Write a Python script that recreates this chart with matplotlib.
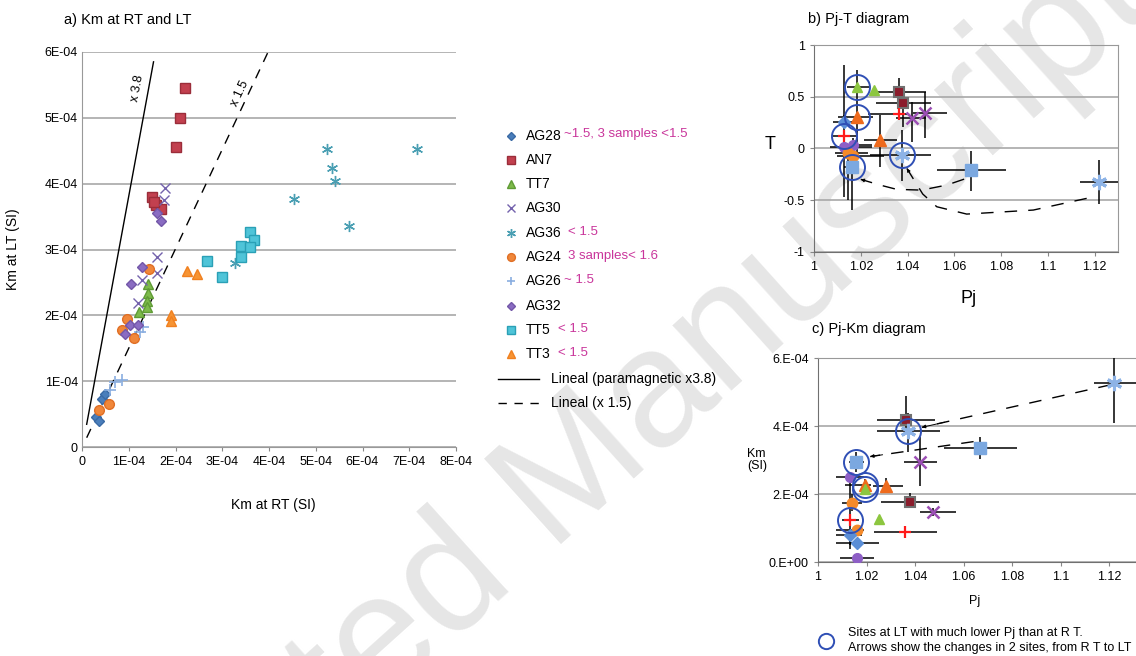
import numpy as np
import matplotlib
matplotlib.use('Agg')
import matplotlib.pyplot as plt

plt.rcParams['font.family'] = ['Liberation Sans', 'DejaVu Sans']
plt.rcParams['font.size'] = 9

# ---------------- a) Km at RT and LT (values in 1E-04 SI) ----------------
sites = ['AG28', 'AN7', 'TT7', 'AG30', 'AG36', 'AG24', 'AG26', 'AG32', 'TT5', 'TT3']
site_notes = ['~1.5, 3 samples <1.5', '', '', '', '< 1.5', '3 samples< 1.6',
              '~ 1.5', '', '< 1.5', '< 1.5']
km_rt = [
    [0.43, 0.30, 0.36, 0.50],
    [2.20, 2.09, 2.00, 1.49, 1.58, 1.68, 1.55],
    [1.42, 1.42, 1.38, 1.38, 1.21],
    [1.77, 1.75, 1.60, 1.61, 1.28, 1.20],
    [5.23, 7.16, 5.34, 5.41, 4.53, 5.71, 3.28],
    [1.44, 0.96, 0.85, 1.11, 0.57, 0.36],
    [0.71, 0.60, 0.85, 1.24, 1.31],
    [1.60, 1.68, 1.28, 1.04, 1.03, 0.92, 1.20],
    [3.60, 3.67, 3.40, 3.60, 3.40, 2.67, 2.99],
    [2.25, 2.47, 1.90, 1.90],
]
km_lt = [
    [0.73, 0.45, 0.39, 0.80],
    [5.45, 5.00, 4.55, 3.79, 3.67, 3.62, 3.72],
    [2.47, 2.34, 2.22, 2.13, 2.05],
    [3.93, 3.75, 2.89, 2.64, 2.53, 2.18],
    [4.52, 4.52, 4.24, 4.04, 3.76, 3.35, 2.79],
    [2.71, 1.95, 1.78, 1.66, 0.66, 0.56],
    [0.99, 0.86, 1.02, 1.75, 1.82],
    [3.55, 3.43, 2.73, 2.47, 1.85, 1.72, 1.85],
    [3.27, 3.15, 3.06, 3.04, 2.88, 2.82, 2.58],
    [2.67, 2.63, 2.00, 1.92],
]
# linear trends: paramagnetic x3.8 and x1.5
trend_slope = [3.85, 1.51]
trend_icpt = [-0.04, -0.01]
trend_xmin = [0.10, 0.10]
trend_xmax = [1.53, 4.00]
trend_names = ['Lineal (paramagnetic x3.8)', 'Lineal (x 1.5)']

a_xticks = ['0', '1E-04', '2E-04', '3E-04', '4E-04', '5E-04', '6E-04', '7E-04', '8E-04']
a_yticks = ['0', '1E-04', '2E-04', '3E-04', '4E-04', '5E-04', '6E-04']

# ---------------- b) Pj-T diagram ----------------
b_site = ['TT7', 'TT7', 'AN7', 'AN7', 'AG26', 'AG30', 'AG30', 'TT3', 'TT3', 'AG28',
          'AG26', 'AG32', 'AG32', 'AG24', 'AG24', 'TT5', 'AG36', 'TT5', 'AG36']
b_pj = [1.0185, 1.0257, 1.0364, 1.0382, 1.0364, 1.0420, 1.0475, 1.0185, 1.0282, 1.0128,
        1.0128, 1.0130, 1.0166, 1.0147, 1.0168, 1.0161, 1.0375, 1.0670, 1.1219]
b_t = [0.596, 0.565, 0.548, 0.440, 0.332, 0.290, 0.345, 0.300, 0.080, 0.258,
       0.119, 0.016, 0.032, -0.048, -0.075, -0.178, -0.065, -0.210, -0.323]
b_pj_min = [1.0140, 1.0257, 1.0275, 1.0265, 1.0232, 1.0350, 1.0425, 1.0104, 1.0214, 1.0080,
            1.0080, 1.0068, 1.0110, 1.0090, 1.0100, 1.0130, 1.0240, 1.0525, 1.1138]
b_pj_max = [1.0240, 1.0257, 1.0479, 1.0499, 1.0396, 1.0480, 1.0570, 1.0254, 1.0354, 1.0200,
            1.0180, 1.0247, 1.0250, 1.0230, 1.0300, 1.0190, 1.0499, 1.0820, 1.1400]
b_t_min = [0.450, 0.565, 0.420, 0.210, 0.300, 0.064, 0.100, -0.070, -0.180, 0.200,
           -0.470, -0.050, -0.050, -0.500, -0.200, -0.600, -0.320, -0.410, -0.540]
b_t_max = [0.760, 0.565, 0.680, 0.520, 0.360, 0.450, 0.550, 0.450, 0.320, 0.320,
           0.810, 0.100, 0.100, 0.020, 0.050, 0.020, 0.180, -0.030, -0.110]
b_circled = [1, 0, 0, 0, 0, 0, 0, 1, 0, 0, 1, 0, 0, 0, 0, 1, 1, 0, 0]
# RT -> LT change paths (AG36 and TT5)
b_path_ag36_pj = [1.1166, 1.0938, 1.0653, 1.0525, 1.0465, 1.0397]
b_path_ag36_t = [-0.484, -0.597, -0.636, -0.565, -0.442, -0.194]
b_path_tt5_pj = [1.0642, 1.0568, 1.0460, 1.0354, 1.0282, 1.0200]
b_path_tt5_t = [-0.298, -0.355, -0.404, -0.397, -0.355, -0.300]

# ---------------- c) Pj-Km diagram (Km in 1E-04 SI) ----------------
c_site = ['AG36', 'AN7', 'AG36', 'TT5', 'AG30', 'TT5', 'AG32', 'TT3', 'TT7', 'TT3',
          'AN7', 'AG30', 'AG24', 'AG26', 'TT7', 'AG26', 'AG24', 'AG28', 'AG28', 'AG32']
c_pj = [1.1221, 1.0363, 1.0371, 1.0669, 1.0421, 1.0158, 1.0130, 1.0192, 1.0192, 1.0280,
        1.0380, 1.0472, 1.0140, 1.0130, 1.0253, 1.0360, 1.0160, 1.0130, 1.0160, 1.0160]
c_km = [5.28, 4.19, 3.87, 3.37, 2.94, 2.96, 2.52, 2.28, 2.15, 2.24,
        1.78, 1.49, 1.73, 1.24, 1.26, 0.88, 0.95, 0.79, 0.57, 0.12]
c_pj_min = [1.1136, 1.0243, 1.0243, 1.0520, 1.0353, 1.0126, 1.0075, 1.0110, 1.0192, 1.0225,
            1.0260, 1.0420, 1.0100, 1.0100, 1.0253, 1.0229, 1.0075, 1.0075, 1.0075, 1.0090]
c_pj_max = [1.1400, 1.0483, 1.0501, 1.0820, 1.0490, 1.0190, 1.0190, 1.0220, 1.0192, 1.0350,
            1.0500, 1.0570, 1.0180, 1.0170, 1.0253, 1.0490, 1.0190, 1.0180, 1.0250, 1.0230]
c_km_min = [4.09, 3.89, 3.25, 3.03, 2.24, 2.66, 2.52, 2.10, 2.15, 2.15,
            1.60, 1.35, 1.50, 0.40, 1.26, 0.88, 0.80, 0.50, 0.57, 0.12]
c_km_max = [6.10, 4.90, 4.38, 3.68, 3.68, 3.25, 2.52, 2.45, 2.15, 2.47,
            2.03, 1.60, 2.00, 2.50, 1.26, 0.88, 1.10, 0.95, 0.57, 0.12]
c_circled = [0, 0, 1, 0, 0, 1, 0, 1, 1, 0, 0, 0, 0, 1, 0, 0, 0, 0, 0, 0]
c_path_ag36_pj = [1.1205, 1.0428]
c_path_ag36_km = [5.22, 3.97]
c_path_tt5_pj = [1.0641, 1.0215]
c_path_tt5_km = [3.55, 3.11]

pj_ticks = ['1', '1.02', '1.04', '1.06', '1.08', '1.1', '1.12']
t_ticks = ['-1', '-0.5', '0', '0.5', '1']
c_yticks = ['0.E+00', '2.E-04', '4.E-04', '6.E-04']

# marker styles
style_a = {
    'AG28': dict(marker='D', mfc='#4a7ebb', mec='#3a6aa5', ms=5),
    'AN7': dict(marker='s', mfc='#c2404f', mec='#9b2d3a', ms=7),
    'TT7': dict(marker='^', mfc='#7dba4a', mec='#5f9b35', ms=7),
    'AG30': dict(marker='x', color='#7462ad', ms=7, mew=1.0),
    'AG36': dict(marker=(6, 2, 0), color='#4a9fb3', ms=8, mew=1.0),
    'AG24': dict(marker='o', mfc='#f0873a', mec='#e06f25', ms=7),
    'AG26': dict(marker='+', color='#8aaee0', ms=8, mew=1.2),
    'AG32': dict(marker='D', mfc='#8a6cc2', mec='#7357a8', ms=5.5),
    'TT5': dict(marker='s', mfc='#4fc4d8', mec='#2aa0b6', ms=7.5),
    'TT3': dict(marker='^', mfc='#f79433', mec='#f08020', ms=7.5),
}
style_bc = {
    'AG28': dict(marker='D', mfc='#5b8ed6', mec='#5b8ed6', ms=6),
    'AN7': dict(marker='s', mfc='#8b1c2c', mec='#707070', ms=7, mew=1.5),
    'TT7': dict(marker='^', mfc='#8cc63f', mec='#8cc63f', ms=7),
    'AG30': dict(marker='x', color='#9c4fb5', ms=9, mew=1.8),
    'AG36': dict(marker=(6, 2, 0), color='#8db3e6', ms=11, mew=2.2),
    'AG24': dict(marker='o', mfc='#f58a2a', mec='#f58a2a', ms=7.5),
    'AG26': dict(marker='+', color='#ff1a1a', ms=9, mew=1.6),
    'AG32': dict(marker='o', mfc='#8e5fc6', mec='#8e5fc6', ms=7),
    'TT5': dict(marker='s', mfc='#7ba8e0', mec='#7ba8e0', ms=8),
    'TT3': dict(marker='^', mfc='#ee6a1c', mec='#ee6a1c', ms=8),
}
grid_kw = dict(color='#a8a8a8', lw=1.2)
ring_kw = dict(ls='none', marker='o', mfc='none', mec='#2f4fb5', ms=18, mew=1.4, zorder=6)
note_color = '#c9359b'

fig = plt.figure(figsize=(11.36, 6.56), dpi=100)
fig.text(0.484, 0.243, 'Accepted Manuscript', rotation=42, rotation_mode='anchor',
         ha='center', va='center', fontsize=120, color='#e6e6e6', zorder=-1)


def frame(ax, spines_on, col='#999999'):
    ax.set_facecolor('none')
    for side, sp in ax.spines.items():
        sp.set_visible(side in spines_on)
        sp.set_color(col)
    ax.tick_params(colors='#888888', labelcolor='black', length=3, labelsize=9)
    ax.set_axisbelow(True)


# ---- panel a ----
ax_a = fig.add_axes([82 / 1136, 1 - 447 / 656, 374 / 1136, 395 / 656])
frame(ax_a, ['left', 'bottom'])
ax_a.set_xlim(0, 8e-4)
ax_a.set_ylim(0, 6e-4)
ax_a.set_xticks(np.arange(len(a_xticks)) * 1e-4, a_xticks)
ax_a.set_yticks(np.arange(len(a_yticks)) * 1e-4, a_yticks)
ax_a.yaxis.grid(True, **grid_kw)
ax_a.tick_params(axis='y', length=0, pad=3)

for name, xs, ys in zip(sites, km_rt, km_lt):
    ax_a.plot(np.array(xs) * 1e-4, np.array(ys) * 1e-4, ls='none', zorder=4, **style_a[name])

trend_ls = ['-', (0, (7, 6))]
for k in range(2):
    xx = np.array([trend_xmin[k], trend_xmax[k]])
    yy = trend_slope[k] * xx + trend_icpt[k]
    ax_a.plot(xx * 1e-4, yy * 1e-4, color='black', lw=1.0, ls=trend_ls[k], zorder=3)
ax_a.text(1.18e-4, 5.45e-4, 'x 3.8', rotation=79.6, ha='center', va='center', fontsize=9)
ax_a.text(3.37e-4, 5.37e-4, 'x 1.5', rotation=65, ha='center', va='center', fontsize=9,
          bbox=dict(fc='white', ec='none', pad=0.5))
ax_a.set_xlabel('Km at RT (SI)', fontsize=10)
ax_a.xaxis.set_label_coords(0.511, -0.129)
ax_a.set_ylabel('Km at LT (SI)', fontsize=10)
ax_a.yaxis.set_label_coords(-0.166, 0.5)


def scatter_panel(ax, site, px, py, pmin, pmax, ymin, ymax, circ, scale=1.0):
    px, py = np.array(px), np.array(py) * scale
    pmin, pmax = np.array(pmin), np.array(pmax)
    ymin, ymax = np.array(ymin) * scale, np.array(ymax) * scale
    ax.errorbar(px, py, xerr=[px - pmin, pmax - px], yerr=[py - ymin, ymax - py],
                fmt='none', ecolor='black', elinewidth=1.1, capsize=0, zorder=3)
    for i, s in enumerate(site):
        ax.plot(px[i], py[i], ls='none', zorder=5, **style_bc[s])
    c = np.array(circ, dtype=bool)
    ax.plot(px[c], py[c], **ring_kw)


def change_arrow(ax, xs, ys):
    xs, ys = np.asarray(xs, float), np.asarray(ys, float)
    ax.plot(xs, ys, color='black', lw=1.0, ls=(0, (9, 8)), zorder=2)
    # short head on the final stretch only, so the dashes stay visible
    tail = (xs[-1] + 0.12 * (xs[-2] - xs[-1]), ys[-1] + 0.12 * (ys[-2] - ys[-1]))
    ax.annotate('', xy=(xs[-1], ys[-1]), xytext=tail, zorder=2,
                arrowprops=dict(arrowstyle='-|>', color='black', lw=0.7,
                                mutation_scale=5, shrinkA=0, shrinkB=0))


# ---- panel b ----
ax_b = fig.add_axes([814 / 1136, 1 - 251.7 / 656, 304 / 1136, 206.7 / 656])
frame(ax_b, ['left', 'bottom', 'top', 'right'])
ax_b.spines['left'].set_color('#707070')
ax_b.spines['bottom'].set_color('#707070')
ax_b.set_xlim(1, 1.13)
ax_b.set_ylim(-1, 1)
ax_b.set_xticks(1 + np.arange(len(pj_ticks)) * 0.02, pj_ticks)
ax_b.set_yticks(-1 + np.arange(len(t_ticks)) * 0.5, t_ticks)
ax_b.yaxis.grid(True, **grid_kw)
scatter_panel(ax_b, b_site, b_pj, b_t, b_pj_min, b_pj_max, b_t_min, b_t_max, b_circled)
change_arrow(ax_b, b_path_ag36_pj, b_path_ag36_t)
change_arrow(ax_b, b_path_tt5_pj, b_path_tt5_t)
ax_b.set_xlabel('Pj', fontsize=13)
ax_b.xaxis.set_label_coords(0.507, -0.185)
ax_b.set_ylabel('T', fontsize=13, rotation=0)
ax_b.yaxis.set_label_coords(-0.145, 0.477)

# ---- panel c ----
ax_c = fig.add_axes([818 / 1136, 1 - 562.3 / 656, 318 / 1136, 204 / 656])
frame(ax_c, ['left', 'bottom', 'top'])
ax_c.spines['left'].set_color('#707070')
ax_c.spines['bottom'].set_color('#707070')
ax_c.set_xlim(1, 1.131)
ax_c.set_ylim(0, 6e-4)
ax_c.set_xticks(1 + np.arange(len(pj_ticks)) * 0.02, pj_ticks)
ax_c.set_yticks(np.arange(len(c_yticks)) * 2e-4, c_yticks)
ax_c.yaxis.grid(True, **grid_kw)
scatter_panel(ax_c, c_site, c_pj, c_km, c_pj_min, c_pj_max, c_km_min, c_km_max,
              c_circled, scale=1e-4)
change_arrow(ax_c, c_path_ag36_pj, np.array(c_path_ag36_km) * 1e-4)
change_arrow(ax_c, c_path_tt5_pj, np.array(c_path_tt5_km) * 1e-4)
ax_c.set_xlabel('Pj', fontsize=9)
ax_c.xaxis.set_label_coords(0.494, -0.16)

# ---- titles, legends, notes (figure pixel frame) ----
ov = fig.add_axes([0, 0, 1, 1])
ov.set_xlim(0, 1136)
ov.set_ylim(656, 0)
ov.axis('off')
ov.set_facecolor('none')

ov.text(64, 20, 'a) Km at RT and LT', fontsize=10.5, va='center')
ov.text(808, 19, 'b) Pj-T diagram', fontsize=10.5, va='center')
ov.text(812, 329, 'c) Pj-Km diagram', fontsize=10.5, va='center')
ov.text(747, 460, 'Km\n(SI)', fontsize=9, va='center', ha='left', linespacing=1.1)

row0, step = 135.5, 24.3
for i, name in enumerate(sites):
    y = row0 + i * step
    st = dict(style_a[name])
    st['ms'] = st['ms'] * 0.8
    ov.plot(510.7, y, ls='none', **st)
    ov.text(526, y, name, fontsize=10, va='center')
    if site_notes[i]:
        nx = 526 + 36.5 + (2 if name in ('AG28', 'AG26') else 5)
        if name in ('TT5', 'TT3'):
            nx = 558
        ov.text(nx, y - 1, site_notes[i], fontsize=9.5, color=note_color, va='center')
for k in range(2):
    y = row0 + (len(sites) + k) * step
    ov.plot([498, 539], [y, y], color='black', lw=1.0,
            ls=['-', (0, (6, 5.5))][k])
    ov.text(551, y, trend_names[k], fontsize=10, va='center')

ov.plot(826, 641, ls='none', marker='o', mfc='none', mec='#2f4fb5', ms=11, mew=1.4)
ov.text(848, 633, 'Sites at LT with much lower Pj than at R T.', fontsize=9, va='center')
ov.text(848, 648, 'Arrows show the changes in 2 sites, from R T to LT', fontsize=9, va='center')

fig.savefig('out.png', dpi=100)
